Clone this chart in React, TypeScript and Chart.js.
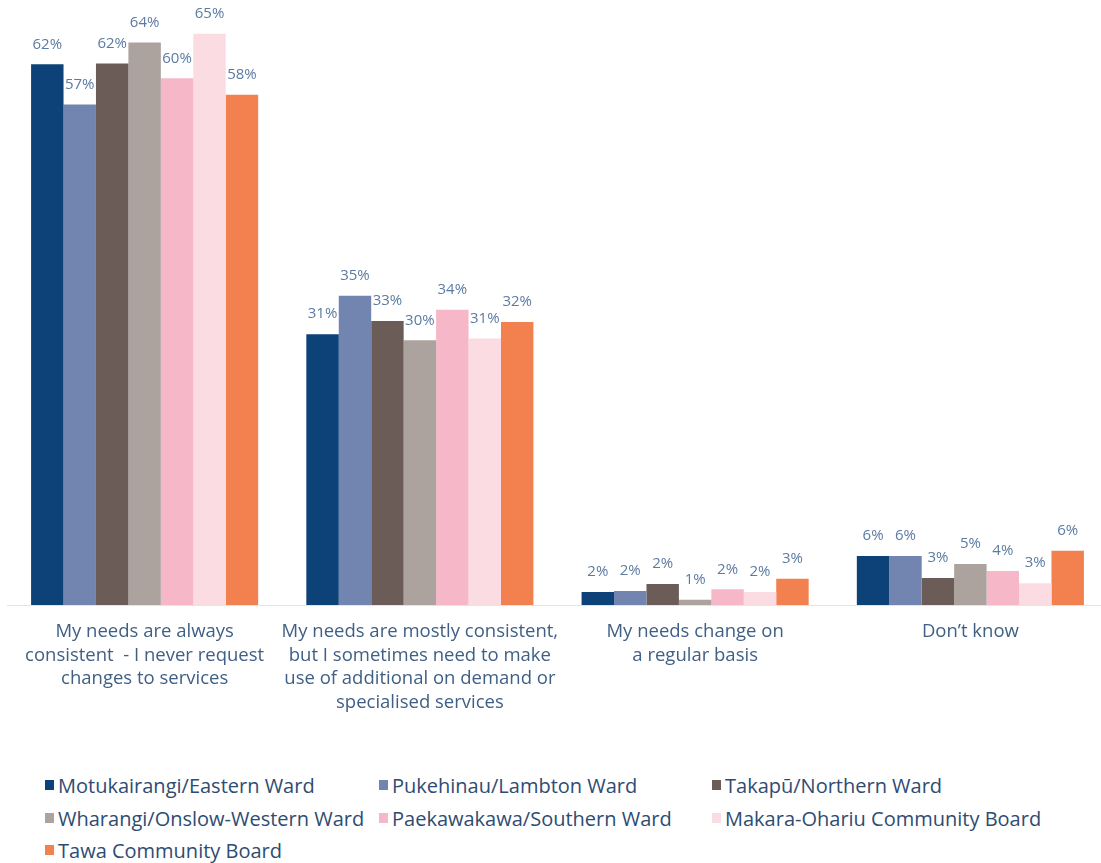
import React, { useEffect, useRef } from "react";
import { Chart, registerables } from "chart.js";

Chart.register(...registerables);

const categories: string[][] = [
  ["My needs are always", "consistent  - I never request", "changes to services"],
  ["My needs are mostly consistent,", "but I sometimes need to make", "use of additional on demand or", "specialised services"],
  ["My needs change on", "a regular basis"],
  ["Don’t know"],
];

const seriesNames = [
  "Motukairangi/Eastern Ward",
  "Pukehinau/Lambton Ward",
  "Takapū/Northern Ward",
  "Wharangi/Onslow-Western Ward",
  "Paekawakawa/Southern Ward",
  "Makara-Ohariu Community Board",
  "Tawa Community Board",
];

const motukairangi = [61.9, 31.0, 1.5, 5.6];
const pukehinau = [57.3, 35.4, 1.6, 5.6];
const takapu = [62.0, 32.5, 2.4, 3.1];
const wharangi = [64.4, 30.3, 0.6, 4.7];
const paekawakawa = [60.3, 33.8, 1.8, 3.9];
const makara = [65.4, 30.5, 1.5, 2.5];
const tawa = [58.4, 32.4, 3.0, 6.2];

const seriesValues = [motukairangi, pukehinau, takapu, wharangi, paekawakawa, makara, tawa];

const colors = ["#0d4279", "#7285b0", "#6c5c58", "#aca39e", "#f6b7c8", "#fcdce3", "#f3814f"];

const valueLabelPlugin = {
  id: "valueLabels",
  afterDatasetsDraw(chart: any) {
    const ctx = chart.ctx;
    ctx.save();
    ctx.font = "15px 'Open Sans', sans-serif";
    ctx.fillStyle = "#5b7ba3";
    ctx.textAlign = "center";
    ctx.textBaseline = "middle";
    chart.data.datasets.forEach((ds: any, i: number) => {
      const meta = chart.getDatasetMeta(i);
      meta.data.forEach((bar: any, j: number) => {
        const v = ds.data[j];
        ctx.fillText(Math.round(v) + "%", bar.x, bar.y - 20);
      });
    });
    ctx.restore();
  },
};

export default function App() {
  const canvasRef = useRef<HTMLCanvasElement | null>(null);

  useEffect(() => {
    if (!canvasRef.current) return;
    const chart = new Chart(canvasRef.current, {
      type: "bar",
      data: {
        labels: categories,
        datasets: seriesNames.map((name, i) => ({
          label: name,
          data: seriesValues[i],
          backgroundColor: colors[i],
          borderWidth: 0,
          barPercentage: 1,
          categoryPercentage: 0.825,
        })),
      },
      options: {
        responsive: false,
        animation: false,
        layout: { padding: { left: 7, right: 2, top: 11, bottom: 0 } },
        plugins: {
          legend: { display: false },
          tooltip: { enabled: false },
        },
        scales: {
          x: {
            grid: { display: false, drawTicks: false },
            border: { display: true, color: "#e4e4e4", width: 1 },
            ticks: {
              color: "#3f5f85",
              font: { family: "'Open Sans', sans-serif", size: 18.5, lineHeight: 1.28 },
              padding: 15,
              maxRotation: 0,
              autoSkip: false,
            },
            afterFit: (scale: any) => {
              scale.height = 135;
            },
          },
          y: {
            display: false,
            min: 0,
            max: 68,
          },
        },
      },
      plugins: [valueLabelPlugin],
    });
    return () => chart.destroy();
  }, []);

  const legendCols = [45, 379, 712];
  const legendRows = [785, 818, 850];

  return (
    <div
      style={{
        position: "absolute",
        left: 0,
        top: 0,
        width: 1101,
        height: 863,
        overflow: "hidden",
        background: "#ffffff",
      }}
    >
      <canvas ref={canvasRef} width={1110} height={740} style={{ position: "absolute", left: 0, top: 0 }} />
      {seriesNames.map((name, i) => {
        const col = i % 3;
        const row = Math.floor(i / 3);
        return (
          <div
            key={name}
            style={{
              position: "absolute",
              left: legendCols[col],
              top: legendRows[row] - 12,
              height: 24,
              display: "flex",
              alignItems: "center",
              fontFamily: "'Open Sans', sans-serif",
              fontSize: 20,
              color: "#2e4c72",
              whiteSpace: "nowrap",
            }}
          >
            <span
              style={{
                display: "inline-block",
                width: 9,
                height: 10,
                background: colors[i],
                marginRight: 4,
              }}
            />
            {name}
          </div>
        );
      })}
    </div>
  );
}
